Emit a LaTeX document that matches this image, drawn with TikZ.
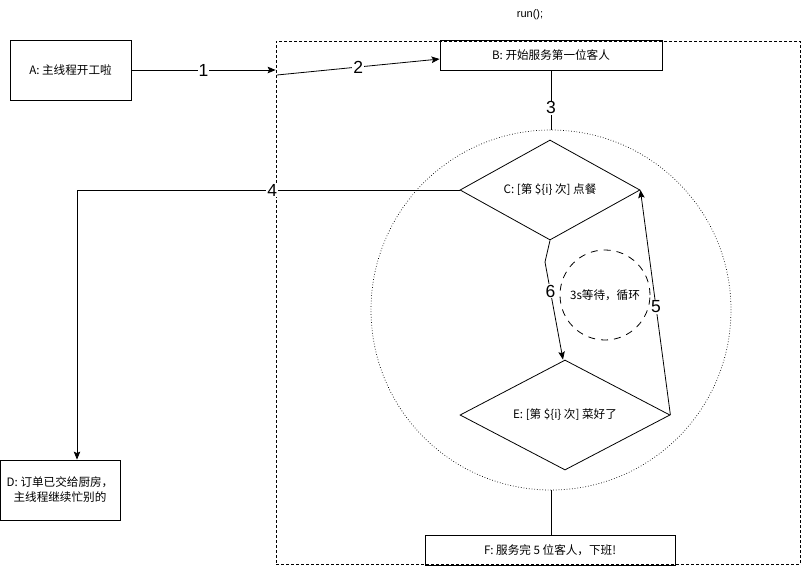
\documentclass[tikz,border=0pt]{standalone}
\usepackage{fontspec}
\setmainfont{Liberation Sans}
\newfontfamily\cjk{Noto Sans CJK SC}
\usetikzlibrary{arrows.meta,shapes.geometric}
\begin{document}
\begin{tikzpicture}[x=1pt,y=-1pt,
  txt/.style={font=\cjk\fontsize{11.6}{15}\selectfont},
  box/.style={draw, line width=0.8pt, inner sep=0pt, txt, align=center},
  dia/.style={draw, line width=0.8pt, shape=diamond, aspect=1.8, inner sep=0pt, txt},
  lbl/.style={fill=white, inner sep=1pt, font=\fontsize{17.5}{18}\selectfont},
  conn/.style={line width=0.8pt},
  arr/.style={conn, -{Stealth[length=8pt,width=6.5pt,inset=1.5pt]}}]
\useasboundingbox (0,0) rectangle (801,566);
\fill[white] (0,0) rectangle (801,566);
% container
\node[draw, dashed, dash pattern=on 3pt off 2pt, line width=0.7pt, minimum width=524pt, minimum height=523pt, inner sep=0pt] (cont) at (538,302.5) {};
\node[font=\fontsize{11}{12}\selectfont] (run) at (530,15) {run();};
% big dotted circle
\node[draw, dotted, line width=0.7pt, circle, minimum size=360pt, inner sep=0pt] (big) at (551,310) {};
% boxes
\node[box, minimum width=121pt, minimum height=60pt] (A) at (70.5,70) {A: 主线程开工啦};
\node[box, minimum width=222pt, minimum height=30pt] (B) at (551,55) {B: 开始服务第一位客人};
\node[box, minimum width=120pt, minimum height=60pt] (D) at (60,490) {D: 订单已交给厨房，\\主线程继续忙别的};
\node[box, minimum width=250pt, minimum height=30pt] (F) at (550,550) {F: 服务完 5 位客人，下班!};
% diamonds
\node[dia, minimum width=180pt, minimum height=100pt] (C) at (550,190) {C: [第 \$\{i\} 次] 点餐};
\node[dia, minimum width=210pt, minimum height=110pt] (E) at (565,415) {E: [第 \$\{i\} 次] 菜好了};
% dashed loop circle
\node[draw, dashed, dash pattern=on 7pt off 6pt, line width=0.8pt, circle, minimum size=90pt, inner sep=0pt, txt] (wait) at (605,295) {3s等待，循环};
% connectors
\draw[arr] (A.east) -- node[lbl] {1} (A.east -| cont.west);
\coordinate (s2) at (277,75);
\draw[arr] (s2) -- node[lbl] {2} ([yshift=-4pt]B.west);
\draw[conn] (B.south) -- node[lbl, pos=0.63] {3} (big.north);
\coordinate (d4) at (77,190);
\draw[arr] (C.west) -- node[lbl, pos=0.49] {4} (d4) -- (D.north -| d4);
\coordinate (b6) at (545,262);
\draw[arr] (C.south) -- (b6) -- node[lbl, pos=0.3] {6} ([xshift=-2pt]E.north);
\draw[arr] (E.east) -- node[lbl, pos=0.48] {5} (C.east);
\draw[conn] (big.south) -- (big.south |- F.north);
\end{tikzpicture}
\end{document}
